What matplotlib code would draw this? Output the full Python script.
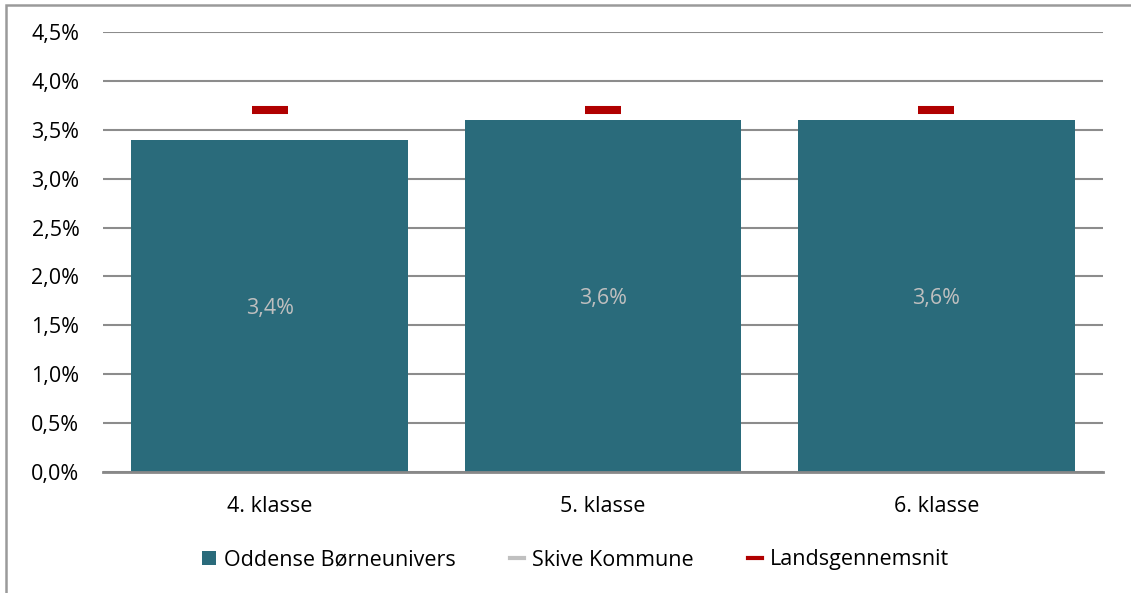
import numpy as np
import matplotlib
matplotlib.use('Agg')
import matplotlib.pyplot as plt
from matplotlib.patches import Rectangle, Patch
from matplotlib.lines import Line2D

plt.rcParams['font.family'] = ['Open Sans', 'DejaVu Sans']

# data
klasser = ['4. klasse', '5. klasse', '6. klasse']
oddense = [3.4, 3.6, 3.6]
skive = [np.nan, np.nan, np.nan]      # not visible in the picture
landsgennemsnit = [3.7, 3.7, 3.7]
yticks = [0.0, 0.5, 1.0, 1.5, 2.0, 2.5, 3.0, 3.5, 4.0, 4.5]

bar_col = '#2a6b7b'
skive_col = '#c0c0c0'
lands_col = '#b00000'
fs = 15.5

fig = plt.figure(figsize=(11.31, 5.93), dpi=100)
ax = fig.add_axes([103/1131, 1-472/593, 1000/1131, 440/593])

x = np.arange(len(klasser))
ax.bar(x, oddense, width=0.83, color=bar_col, zorder=2)
ax.plot(x, skive, ls='none', marker='_', ms=26.6, mew=5.8, color=skive_col, zorder=3)
ax.plot(x, landsgennemsnit, ls='none', marker='_', ms=26.6, mew=5.8, color=lands_col, zorder=3)

for xi, v in zip(x, oddense):
    ax.text(xi, v/2 - 0.03, f'{v:.1f}%'.replace('.', ','), ha='center', va='center',
            color='#bfbfbf', fontsize=fs)

ax.set_xlim(-0.5, 2.5)
ax.set_ylim(0, 4.5)
ax.set_yticks(yticks)
ax.set_yticklabels([f'{t:.1f}%'.replace('.', ',') for t in yticks], fontsize=fs)
ax.set_xticks(x)
ax.set_xticklabels(klasser, fontsize=fs)
ax.tick_params(axis='y', length=0, pad=17)
ax.tick_params(axis='x', length=0, pad=17)
ax.yaxis.grid(True, color='#8c8c8c', lw=1.5, zorder=0)
ax.set_axisbelow(True)
for s in ['top', 'right', 'left']:
    ax.spines[s].set_visible(False)
ax.spines['bottom'].set_color('#888888')
ax.spines['bottom'].set_linewidth(2)

# outer chart border
fig.patches.append(Rectangle((6/1131, -0.1), 1.2, 1-5/593+0.1, transform=fig.transFigure,
                             fill=False, edgecolor='#9a9a9a', lw=1.8))

handles = [Patch(facecolor=bar_col, label='Oddense Børneunivers'),
           Line2D([], [], color=skive_col, lw=3, label='Skive Kommune'),
           Line2D([], [], color=lands_col, lw=3, label='Landsgennemsnit')]
fig.legend(handles=handles, loc='center', bbox_to_anchor=(0.509, 1-560/593), ncol=3,
           frameon=False, fontsize=fs, handlelength=0.65, handletextpad=0.35,
           columnspacing=2.55, handleheight=0.65)

fig.savefig('out.png', dpi=100)
